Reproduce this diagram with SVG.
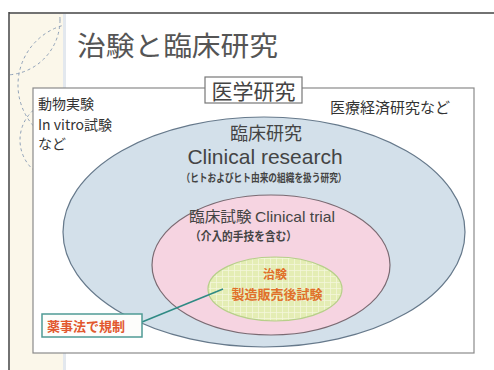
<svg xmlns="http://www.w3.org/2000/svg" width="494" height="370" viewBox="0 0 494 370">
<style>
.jp{font-family:"Noto Sans CJK JP","Noto Sans CJK SC",sans-serif;}
.en{font-family:"Liberation Sans","Noto Sans CJK JP",sans-serif;}
.dk{fill:#333;}
.or{fill:#e0702a;font-weight:bold;}
</style>
<defs>
<pattern id="grid" width="6" height="6" patternUnits="userSpaceOnUse">
<rect width="6" height="6" fill="#e4edb4"/>
<path d="M0 0H6M0 0V6" stroke="#f4f7dc" stroke-width="1.5"/>
</pattern>
<clipPath id="side"><rect x="10" y="14" width="54" height="356"/></clipPath>
</defs>
<rect width="494" height="370" fill="#fff"/>
<g id="sidebar">
<rect x="10" y="14" width="54" height="356" fill="#fbf7ea"/>
<rect x="63" y="14" width="3" height="356" fill="#e3e8ee"/>
<g clip-path="url(#side)" fill="none" stroke="#8fa1b8" stroke-width="1" stroke-dasharray="3 3">
<circle cx="80" cy="85" r="62"/>
<circle cx="5" cy="20" r="55"/>
<circle cx="60" cy="140" r="40"/>
</g>
<path d="M9 12V370M9 13H494" stroke="#444" stroke-width="1.5" fill="none"/>
</g>
<g id="title"><text class="jp" x="77" y="56" font-size="27" fill="#555" textLength="201" lengthAdjust="spacingAndGlyphs">治験と臨床研究</text></g>
<g id="medical-research">
<rect x="33" y="88" width="441" height="265" fill="#fff" stroke="#8a8a8a" stroke-width="1.2"/>
<text class="jp dk" x="38" y="109" font-size="14">動物実験</text>
<text class="jp dk" x="38" y="130" font-size="14">In vitro試験</text>
<text class="jp dk" x="38" y="149" font-size="14">など</text>
<text class="jp dk" x="330" y="113" font-size="15">医療経済研究など</text>
</g>
<g id="clinical-research">
<ellipse cx="264" cy="232" rx="201" ry="115" fill="#d3e0ea" stroke="#66798b" stroke-width="1.2"/>
<text class="jp" x="266" y="140" font-size="18" fill="#444" text-anchor="middle">臨床研究</text>
<text class="en" x="265" y="164" font-size="21" fill="#444" text-anchor="middle">Clinical research</text>
<text class="jp" x="264" y="182" font-size="11" fill="#444" font-weight="bold" text-anchor="middle" textLength="165" lengthAdjust="spacingAndGlyphs">（ヒトおよびヒト由来の組織を扱う研究）</text>
</g>
<g id="clinical-trial">
<ellipse cx="271" cy="265" rx="119" ry="70" fill="#f6d4e1" stroke="#7a6a72" stroke-width="1.2"/>
<text class="jp" x="189" y="222" font-size="15" fill="#444" textLength="146" lengthAdjust="spacingAndGlyphs">臨床試験 <tspan class="en">Clinical trial</tspan></text>
<text class="jp" x="190" y="241" font-size="12" fill="#444" font-weight="bold" textLength="107" lengthAdjust="spacingAndGlyphs">（介入的手技を含む）</text>
</g>
<g id="chiken">
<ellipse cx="275" cy="289" rx="67" ry="32" fill="url(#grid)" stroke="#b7cf8a" stroke-width="1.2"/>
<text class="jp or" x="275" y="279" font-size="12" text-anchor="middle">治験</text>
<text class="jp or" x="277" y="299" font-size="13" text-anchor="middle">製造販売後試験</text>
</g>
<g id="connectors">
<line x1="142" y1="322" x2="223" y2="289" stroke="#2f8a84" stroke-width="1.5"/>
</g>
<g id="regulation">
<rect x="42" y="314" width="100" height="23" fill="#fdfdfb" stroke="#4f9a95" stroke-width="1.5"/>
<text class="jp" x="47" y="331" font-size="13" fill="#e2582e" font-weight="bold">薬事法で規制</text>
</g>
<g id="label-box">
<rect x="205" y="77" width="97" height="26" fill="#fff" stroke="#777" stroke-width="1.2"/>
<text class="jp" x="253.5" y="99" font-size="21" fill="#444" text-anchor="middle">医学研究</text>
</g>
</svg>
